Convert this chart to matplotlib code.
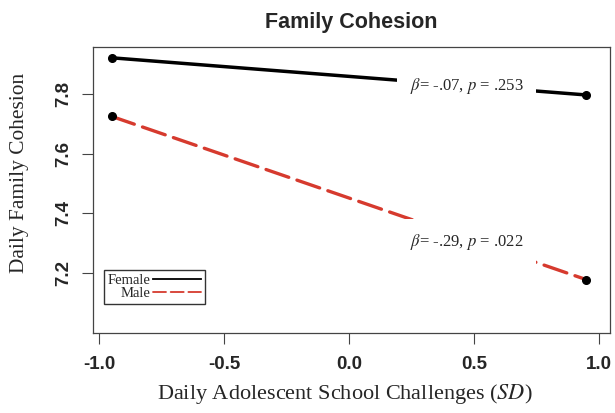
import matplotlib
matplotlib.use("Agg")
import matplotlib.pyplot as plt

plt.rcParams['font.serif'] = ['Liberation Serif', 'DejaVu Serif']
plt.rcParams['mathtext.fontset'] = 'stix'

# valores
x_sd = [-0.95, 0.95]
female = [7.922, 7.797]
male = [7.725, 7.176]
x_ticks = [-1.0, -0.5, 0.0, 0.5, 1.0]
y_ticks = [7.2, 7.4, 7.6, 7.8]

rojo = '#d63a2e'
gris = '#262626'

fig = plt.figure(figsize=(6.15, 4.13), dpi=100)
ax = fig.add_axes([0.151, 0.194, 0.841, 0.692])

ax.plot(x_sd, female, color='black', lw=2.5, marker='o', ms=5.5,
        mfc='black', mec='black', label='Female', zorder=2)
ax.plot(x_sd, male, color=rojo, lw=2.4, ls=(0, (7.2, 2.6)), dash_capstyle='round',
        marker='o', ms=5.5, mfc='black', mec='black', label='Male', zorder=2)

# anotaciones con fondo blanco que tapa la linea
caja = dict(facecolor='white', edgecolor='none', pad=9)
ax.text(0.47, 7.827, r'$\beta$= -.07, $p$ = .253', family='serif', fontsize=12,
        color=gris, ha='center', va='center', bbox=caja, zorder=3)
ax.text(0.47, 7.303, r'$\beta$= -.29, $p$ = .022', family='serif', fontsize=12,
        color=gris, ha='center', va='center', bbox=caja, zorder=3)

ax.set_xlim(-1.025, 1.045)
ax.set_ylim(6.997, 7.958)
ax.set_xticks(x_ticks)
ax.set_xticklabels(['-1.0', '-0.5', '0.0', '0.5', '1.0'], fontweight='bold',
                   fontsize=13.5, family='Liberation Sans', color=gris)
ax.set_yticks(y_ticks)
ax.set_yticklabels(['7.2', '7.4', '7.6', '7.8'], fontweight='bold', color=gris,
                   fontsize=13.5, family='Liberation Sans', rotation=90, va='center')
ax.tick_params(direction='out', length=8, width=0.8, color='#444444')
ax.tick_params(axis='x', pad=9)
ax.tick_params(axis='y', pad=7)

ax.set_title('Family Cohesion', fontweight='bold', fontsize=15.5, color=gris,
             family='Liberation Sans', pad=14)
ax.set_xlabel('Daily Adolescent School Challenges ($SD$)', family='serif',
              fontsize=16, color=gris)
ax.set_ylabel('Daily Family Cohesion', family='serif', fontsize=15.4, color=gris)
ax.xaxis.set_label_coords(0.487, -0.172)
ax.yaxis.set_label_coords(-0.124, 0.561)

leg = ax.legend(loc='lower left', bbox_to_anchor=(0.021, 0.102), markerfirst=False,
                prop={'family': 'serif', 'size': 10.5}, frameon=True, fancybox=False,
                edgecolor='black', handlelength=3.3, handletextpad=0.2,
                labelspacing=0.0, borderpad=0.25, borderaxespad=0)
leg.get_frame().set_linewidth(1.0)
for t in leg.get_texts():
    t.set_color(gris)
for h in leg.legend_handles:
    h.set_marker('')
    h.set_linewidth(1.3)

for s in ax.spines.values():
    s.set_color('#444444')
    s.set_linewidth(0.9)

plt.savefig('out.png', dpi=100)
